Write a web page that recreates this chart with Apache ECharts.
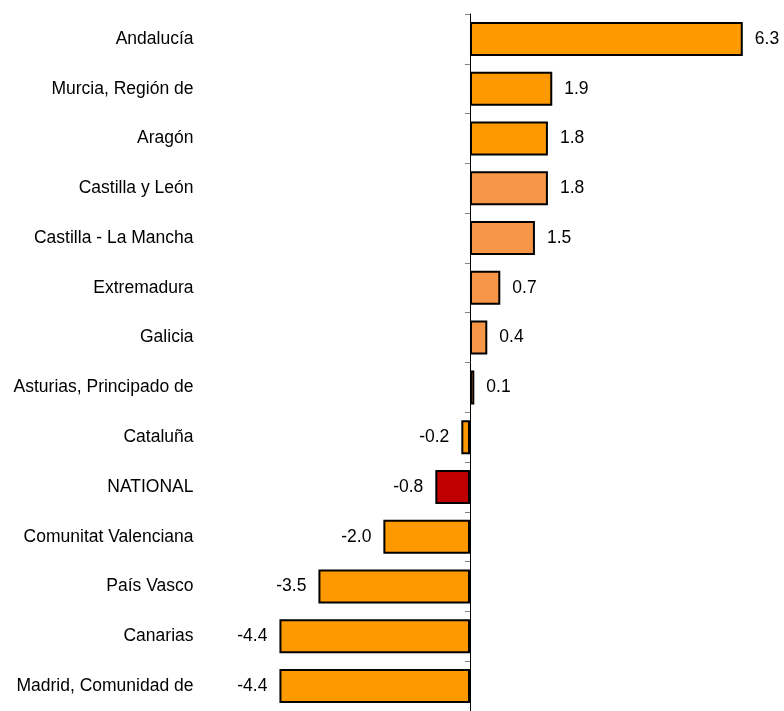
<!DOCTYPE html>
<html><head><meta charset="utf-8">
<script src="https://cdn.jsdelivr.net/npm/echarts@6/dist/echarts.min.js"></script>
<style>html,body{margin:0;padding:0;background:#fff}#c{width:784px;height:711px}</style>
</head><body><div id="c"></div>
<script>
const categories = ["Andalucía","Murcia, Región de","Aragón","Castilla y León","Castilla - La Mancha","Extremadura","Galicia","Asturias, Principado de","Cataluña","NATIONAL","Comunitat Valenciana","País Vasco","Canarias","Madrid, Comunidad de"];
const values = [6.3,1.9,1.8,1.8,1.5,0.7,0.4,0.1,-0.2,-0.8,-2.0,-3.5,-4.4,-4.4];
const colorGroup = ["a","a","a","b","b","b","b","b","a","n","a","a","a","a"];
const palette = {a:"#FF9900", b:"#F79646", n:"#C00000"};
const FONT = "Liberation Sans, Arial, sans-serif";

const chart = echarts.init(document.getElementById('c'));
chart.setOption({
  animation:false,
  grid:{top:14, left:201.5, width:571.6, height:702, containLabel:false},
  xAxis:{type:'value', min:-6.2, max:7, show:false},
  yAxis:[{type:'category', data:categories, inverse:true, position:'left',
    axisLine:{show:false, onZero:false},
    axisTick:{show:false},
    axisLabel:{margin:8, color:'#000', fontSize:17.5, fontFamily:FONT, padding:[3,0,0,0]},
    splitLine:{show:false}},
   {type:'category', data:categories, inverse:true, position:'left',
    axisLine:{show:true, onZero:true, lineStyle:{color:'#000', width:1}},
    axisTick:{show:true, length:5, lineStyle:{color:'#808080'}},
    axisLabel:{show:false},
    splitLine:{show:false}}],
  series:[{type:'bar', barWidth:34, yAxisIndex:0,
    data: values.map((v,i)=>({value:v, itemStyle:{color:palette[colorGroup[i]]},
      label:{position: v>=0?'right':'left'}})),
    itemStyle:{borderColor:'#000', borderWidth:2},
    label:{show:true, distance:12, color:'#000', fontSize:17.5, fontFamily:FONT,
      padding:[3,0,0,0], formatter:p=>p.value.toFixed(1)}}]
});
</script></body></html>
